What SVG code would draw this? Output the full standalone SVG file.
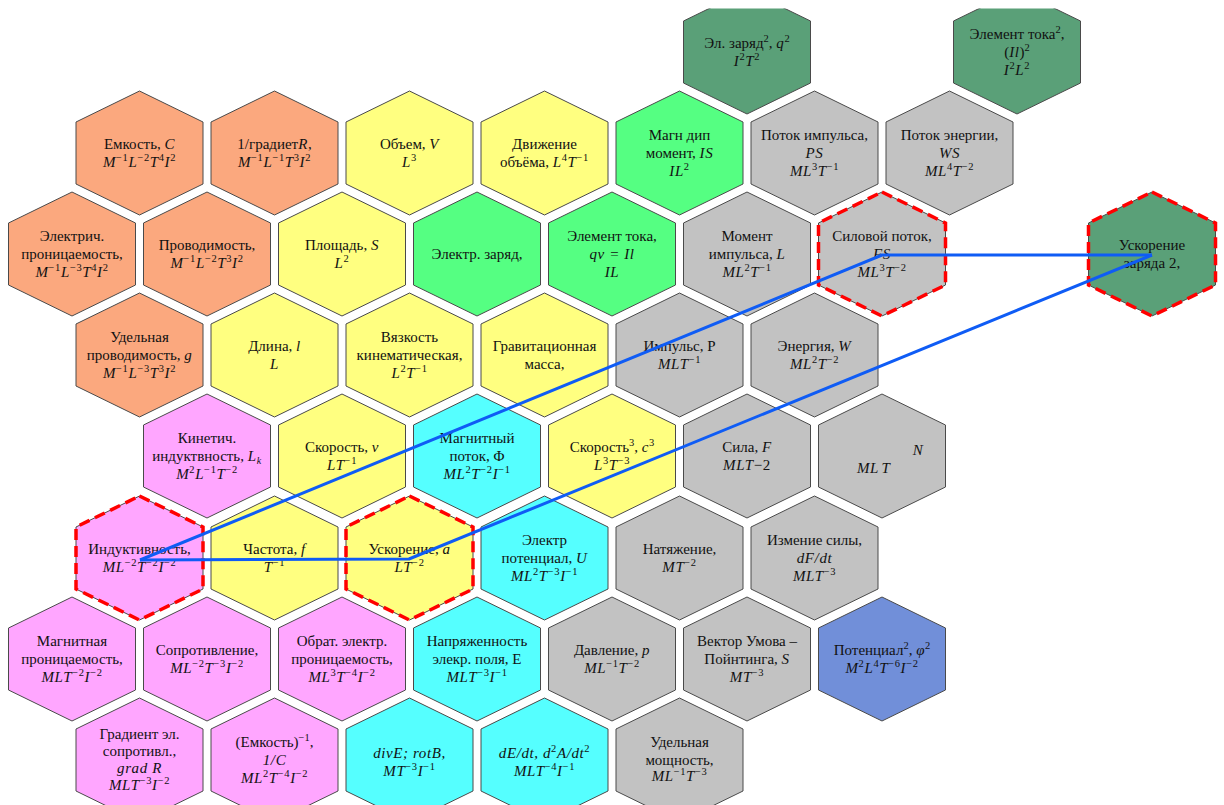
<svg xmlns="http://www.w3.org/2000/svg" xmlns:xlink="http://www.w3.org/1999/xlink" width="1224" height="805" viewBox="0 0 1224 805">
<style>
.hx{stroke:#4a4a4a;stroke-width:1}
.or{fill:#FBA87E}.ye{fill:#FFFF80}.gr{fill:#55FF82}.dg{fill:#5AA078}.gy{fill:#C2C2C2}.pk{fill:#FFA6FF}.cy{fill:#55FFFF}.bl{fill:#718FD9}
.dash{fill:none;stroke:#FF0000;stroke-width:3.5;stroke-dasharray:11 6}
text{font-family:"Liberation Serif","DejaVu Serif",serif;font-size:15px;fill:#111;text-anchor:middle}
.i{font-style:italic;letter-spacing:0.6px}
.s{font-size:10.5px;font-style:normal;baseline-shift:6px}
.b{font-size:10px;baseline-shift:-3px}
.conn{fill:none;stroke:#0F5CF5;stroke-width:3;stroke-linejoin:round}
</style>
<defs>
<polygon id="hex" points="0,-62 63.5,-31 63.5,31 0,62 -63.5,31 -63.5,-31"/>
<clipPath id="topclip"><rect x="-100" y="-43.5" width="300" height="200"/></clipPath>
</defs>

<g id="n-zaryad2" transform="translate(747,52)" clip-path="url(#topclip)"><use href="#hex" class="hx dg"/>
<text><tspan x="0" y="-4">Эл. заряд<tspan class="s">2</tspan>, <tspan class="i">q</tspan><tspan class="s">2</tspan></tspan><tspan x="0" y="14" class="i">I<tspan class="s">2</tspan>T<tspan class="s">2</tspan></tspan></text></g>
<g id="n-elemtoka2" transform="translate(1017,52)" clip-path="url(#topclip)"><use href="#hex" class="hx dg"/>
<text><tspan x="0" y="-13">Элемент тока<tspan class="s">2</tspan>,</tspan><tspan x="0" y="5">(<tspan class="i">Il</tspan>)<tspan class="s">2</tspan></tspan><tspan x="0" y="23" class="i">I<tspan class="s">2</tspan>L<tspan class="s">2</tspan></tspan></text></g>

<g id="n-emkost" transform="translate(139.5,153)"><use href="#hex" class="hx or"/>
<text><tspan x="0" y="-4">Емкость, <tspan class="i">C</tspan></tspan><tspan x="0" y="14" class="i">M<tspan class="s">−1</tspan>L<tspan class="s">−2</tspan>T<tspan class="s">4</tspan>I<tspan class="s">2</tspan></tspan></text></g>
<g id="n-gradR" transform="translate(274.5,153)"><use href="#hex" class="hx or"/>
<text><tspan x="0" y="-4">1/градиет<tspan class="i">R</tspan>,</tspan><tspan x="0" y="14" class="i">M<tspan class="s">−1</tspan>L<tspan class="s">−1</tspan>T<tspan class="s">3</tspan>I<tspan class="s">2</tspan></tspan></text></g>
<g id="n-obem" transform="translate(409.5,153)"><use href="#hex" class="hx ye"/>
<text><tspan x="0" y="-4">Объем, <tspan class="i">V</tspan></tspan><tspan x="0" y="14" class="i">L<tspan class="s">3</tspan></tspan></text></g>
<g id="n-dvizh" transform="translate(544.5,153)"><use href="#hex" class="hx ye"/>
<text><tspan x="0" y="-4">Движение</tspan><tspan x="0" y="14">объёма, <tspan class="i">L<tspan class="s">4</tspan>T<tspan class="s">−1</tspan></tspan></tspan></text></g>
<g id="n-magndip" transform="translate(679.5,153)"><use href="#hex" class="hx gr"/>
<text><tspan x="0" y="-13">Магн дип</tspan><tspan x="0" y="5">момент, <tspan class="i">IS</tspan></tspan><tspan x="0" y="23" class="i">IL<tspan class="s">2</tspan></tspan></text></g>
<g id="n-potokimp" transform="translate(814.5,153)"><use href="#hex" class="hx gy"/>
<text><tspan x="0" y="-13">Поток импульса,</tspan><tspan x="0" y="5" class="i">PS</tspan><tspan x="0" y="23" class="i">ML<tspan class="s">3</tspan>T<tspan class="s">−1</tspan></tspan></text></g>
<g id="n-potokenerg" transform="translate(949.5,153)"><use href="#hex" class="hx gy"/>
<text><tspan x="0" y="-13">Поток энергии,</tspan><tspan x="0" y="5" class="i">WS</tspan><tspan x="0" y="23" class="i">ML<tspan class="s">4</tspan>T<tspan class="s">−2</tspan></tspan></text></g>

<g id="n-elektrich" transform="translate(72,254)"><use href="#hex" class="hx or"/>
<text><tspan x="0" y="-13">Электрич.</tspan><tspan x="0" y="5">проницаемость,</tspan><tspan x="0" y="23" class="i">M<tspan class="s">−1</tspan>L<tspan class="s">−3</tspan>T<tspan class="s">4</tspan>I<tspan class="s">2</tspan></tspan></text></g>
<g id="n-provod" transform="translate(207,254)"><use href="#hex" class="hx or"/>
<text><tspan x="0" y="-4">Проводимость,</tspan><tspan x="0" y="14" class="i">M<tspan class="s">−1</tspan>L<tspan class="s">−2</tspan>T<tspan class="s">3</tspan>I<tspan class="s">2</tspan></tspan></text></g>
<g id="n-ploshad" transform="translate(342,254)"><use href="#hex" class="hx ye"/>
<text><tspan x="0" y="-4">Площадь, <tspan class="i">S</tspan></tspan><tspan x="0" y="14" class="i">L<tspan class="s">2</tspan></tspan></text></g>
<g id="n-elzaryad" transform="translate(477,254)"><use href="#hex" class="hx gr"/>
<text><tspan x="0" y="5">Электр. заряд,</tspan></text></g>
<g id="n-elemtoka" transform="translate(612,254)"><use href="#hex" class="hx gr"/>
<text><tspan x="0" y="-13">Элемент тока,</tspan><tspan x="0" y="5" class="i">qv = Il</tspan><tspan x="0" y="23" class="i">IL</tspan></text></g>
<g id="n-moment" transform="translate(747,254)"><use href="#hex" class="hx gy"/>
<text><tspan x="0" y="-13">Момент</tspan><tspan x="0" y="5">импульса, <tspan class="i">L</tspan></tspan><tspan x="0" y="23" class="i">ML<tspan class="s">2</tspan>T<tspan class="s">−1</tspan></tspan></text></g>
<g id="n-silpotok" transform="translate(882,254)"><use href="#hex" class="hx gy"/><use href="#hex" class="dash"/>
<text><tspan x="0" y="-13">Силовой поток,</tspan><tspan x="0" y="5" class="i">FS</tspan><tspan x="0" y="23" class="i">ML<tspan class="s">3</tspan>T<tspan class="s">−2</tspan></tspan></text></g>
<g id="n-uskzar2" transform="translate(1152,254)"><use href="#hex" class="hx dg"/><use href="#hex" class="dash"/>
<text><tspan x="0" y="-4">Ускорение</tspan><tspan x="0" y="14">заряда 2,</tspan></text></g>

<g id="n-udprovod" transform="translate(139.5,355)"><use href="#hex" class="hx or"/>
<text><tspan x="0" y="-13">Удельная</tspan><tspan x="0" y="5">проводимость, <tspan class="i">g</tspan></tspan><tspan x="0" y="23" class="i">M<tspan class="s">−1</tspan>L<tspan class="s">−3</tspan>T<tspan class="s">3</tspan>I<tspan class="s">2</tspan></tspan></text></g>
<g id="n-dlina" transform="translate(274.5,355)"><use href="#hex" class="hx ye"/>
<text><tspan x="0" y="-4">Длина, <tspan class="i">l</tspan></tspan><tspan x="0" y="14" class="i">L</tspan></text></g>
<g id="n-vyazk" transform="translate(409.5,355)"><use href="#hex" class="hx ye"/>
<text><tspan x="0" y="-13">Вязкость</tspan><tspan x="0" y="5">кинематическая,</tspan><tspan x="0" y="23" class="i">L<tspan class="s">2</tspan>T<tspan class="s">−1</tspan></tspan></text></g>
<g id="n-gravmass" transform="translate(544.5,355)"><use href="#hex" class="hx ye"/>
<text><tspan x="0" y="-4">Гравитационная</tspan><tspan x="0" y="14">масса,</tspan></text></g>
<g id="n-impuls" transform="translate(679.5,355)"><use href="#hex" class="hx gy"/>
<text><tspan x="0" y="-4">Импульс, P</tspan><tspan x="0" y="14" class="i">MLT<tspan class="s">−1</tspan></tspan></text></g>
<g id="n-energ" transform="translate(814.5,355)"><use href="#hex" class="hx gy"/>
<text><tspan x="0" y="-4">Энергия, <tspan class="i">W</tspan></tspan><tspan x="0" y="14" class="i">ML<tspan class="s">2</tspan>T<tspan class="s">−2</tspan></tspan></text></g>

<g id="n-kinind" transform="translate(207,456)"><use href="#hex" class="hx pk"/>
<text><tspan x="0" y="-13">Кинетич.</tspan><tspan x="0" y="5">индуктвность, <tspan class="i">L</tspan><tspan class="b i">k</tspan></tspan><tspan x="0" y="23" class="i">M<tspan class="s">2</tspan>L<tspan class="s">−1</tspan>T<tspan class="s">−2</tspan></tspan></text></g>
<g id="n-skor" transform="translate(342,456)"><use href="#hex" class="hx ye"/>
<text><tspan x="0" y="-4">Скорость, <tspan class="i">v</tspan></tspan><tspan x="0" y="14" class="i">LT<tspan class="s">−1</tspan></tspan></text></g>
<g id="n-magnpotok" transform="translate(477,456)"><use href="#hex" class="hx cy"/>
<text><tspan x="0" y="-13">Магнитный</tspan><tspan x="0" y="5">поток, Φ</tspan><tspan x="0" y="23" class="i">ML<tspan class="s">2</tspan>T<tspan class="s">−2</tspan>I<tspan class="s">−1</tspan></tspan></text></g>
<g id="n-skor3" transform="translate(612,456)"><use href="#hex" class="hx ye"/>
<text><tspan x="0" y="-4">Скорость<tspan class="s">3</tspan>, <tspan class="i">c</tspan><tspan class="s">3</tspan></tspan><tspan x="0" y="14" class="i">L<tspan class="s">3</tspan>T<tspan class="s">−3</tspan></tspan></text></g>
<g id="n-sila" transform="translate(747,456)"><use href="#hex" class="hx gy"/>
<text><tspan x="0" y="-4">Сила, <tspan class="i">F</tspan></tspan><tspan x="0" y="14" class="i">MLT<tspan style="font-style:normal">−2</tspan></tspan></text></g>
<g id="n-N" transform="translate(882,456)"><use href="#hex" class="hx gy"/>
<text class="i"><tspan x="36" y="-1">N</tspan><tspan x="-14" y="17">ML</tspan><tspan x="4" y="17">T</tspan></text></g>

<g id="n-indukt" transform="translate(139.5,558)"><use href="#hex" class="hx pk"/><use href="#hex" class="dash"/>
<text><tspan x="0" y="-4">Индуктивность,</tspan><tspan x="0" y="14" class="i">ML<tspan class="s">−2</tspan>T<tspan class="s">−2</tspan>I<tspan class="s">−2</tspan></tspan></text></g>
<g id="n-chastota" transform="translate(274.5,558)"><use href="#hex" class="hx ye"/>
<text><tspan x="0" y="-4">Частота, <tspan class="i">f</tspan></tspan><tspan x="0" y="14" class="i">T<tspan class="s">−1</tspan></tspan></text></g>
<g id="n-uskor" transform="translate(409.5,558)"><use href="#hex" class="hx ye"/><use href="#hex" class="dash"/>
<text><tspan x="0" y="-4">Ускорение, <tspan class="i">a</tspan></tspan><tspan x="0" y="14" class="i">LT<tspan class="s">−2</tspan></tspan></text></g>
<g id="n-elpot" transform="translate(544.5,558)"><use href="#hex" class="hx cy"/>
<text><tspan x="0" y="-13">Электр</tspan><tspan x="0" y="5">потенциал, <tspan class="i">U</tspan></tspan><tspan x="0" y="23" class="i">ML<tspan class="s">2</tspan>T<tspan class="s">−3</tspan>I<tspan class="s">−1</tspan></tspan></text></g>
<g id="n-natyazh" transform="translate(679.5,558)"><use href="#hex" class="hx gy"/>
<text><tspan x="0" y="-4">Натяжение,</tspan><tspan x="0" y="14" class="i">MT<tspan class="s">−2</tspan></tspan></text></g>
<g id="n-izmsily" transform="translate(814.5,558)"><use href="#hex" class="hx gy"/>
<text><tspan x="0" y="-13">Измение силы,</tspan><tspan x="0" y="5" class="i">dF/dt</tspan><tspan x="0" y="23" class="i">MLT<tspan class="s">−3</tspan></tspan></text></g>

<g id="n-magnpron" transform="translate(72,659)"><use href="#hex" class="hx pk"/>
<text><tspan x="0" y="-13">Магнитная</tspan><tspan x="0" y="5">проницаемость,</tspan><tspan x="0" y="23" class="i">MLT<tspan class="s">−2</tspan>I<tspan class="s">−2</tspan></tspan></text></g>
<g id="n-soprot" transform="translate(207,659)"><use href="#hex" class="hx pk"/>
<text><tspan x="0" y="-4">Сопротивление,</tspan><tspan x="0" y="14" class="i">ML<tspan class="s">−2</tspan>T<tspan class="s">−3</tspan>I<tspan class="s">−2</tspan></tspan></text></g>
<g id="n-obrat" transform="translate(342,659)"><use href="#hex" class="hx pk"/>
<text><tspan x="0" y="-13">Обрат. электр.</tspan><tspan x="0" y="5">проницаемость,</tspan><tspan x="0" y="23" class="i">ML<tspan class="s">3</tspan>T<tspan class="s">−4</tspan>I<tspan class="s">−2</tspan></tspan></text></g>
<g id="n-napryazh" transform="translate(477,659)"><use href="#hex" class="hx cy"/>
<text><tspan x="0" y="-13">Напряженность</tspan><tspan x="0" y="5">элекр. поля, E</tspan><tspan x="0" y="23" class="i">MLT<tspan class="s">−3</tspan>I<tspan class="s">−1</tspan></tspan></text></g>
<g id="n-davl" transform="translate(612,659)"><use href="#hex" class="hx gy"/>
<text><tspan x="0" y="-4">Давление, <tspan class="i">p</tspan></tspan><tspan x="0" y="14" class="i">ML<tspan class="s">−1</tspan>T<tspan class="s">−2</tspan></tspan></text></g>
<g id="n-umov" transform="translate(747,659)"><use href="#hex" class="hx gy"/>
<text><tspan x="0" y="-13">Вектор Умова –</tspan><tspan x="0" y="5">Пойнтинга, <tspan class="i">S</tspan></tspan><tspan x="0" y="23" class="i">MT<tspan class="s">−3</tspan></tspan></text></g>
<g id="n-potenc2" transform="translate(882,659)"><use href="#hex" class="hx bl"/>
<text><tspan x="0" y="-4">Потенциал<tspan class="s">2</tspan>, <tspan class="i">φ</tspan><tspan class="s">2</tspan></tspan><tspan x="0" y="14" class="i">M<tspan class="s">2</tspan>L<tspan class="s">4</tspan>T<tspan class="s">−6</tspan>I<tspan class="s">−2</tspan></tspan></text></g>

<g id="n-gradsopr" transform="translate(139.5,760)"><use href="#hex" class="hx pk"/>
<text><tspan x="0" y="-21">Градиент эл.</tspan><tspan x="0" y="-4">сопротивл.,</tspan><tspan x="0" y="13" class="i">grad R</tspan><tspan x="0" y="30" class="i">MLT<tspan class="s">−3</tspan>I<tspan class="s">−2</tspan></tspan></text></g>
<g id="n-emkinv" transform="translate(274.5,760)"><use href="#hex" class="hx pk"/>
<text><tspan x="0" y="-13">(Емкость)<tspan class="s">−1</tspan>,</tspan><tspan x="0" y="5" class="i">1/C</tspan><tspan x="0" y="23" class="i">ML<tspan class="s">2</tspan>T<tspan class="s">−4</tspan>I<tspan class="s">−2</tspan></tspan></text></g>
<g id="n-div" transform="translate(409.5,760)"><use href="#hex" class="hx cy"/>
<text><tspan x="0" y="-2" class="i">divE; rotB,</tspan><tspan x="0" y="16" class="i">MT<tspan class="s">−3</tspan>I<tspan class="s">−1</tspan></tspan></text></g>
<g id="n-dEdt" transform="translate(544.5,760)"><use href="#hex" class="hx cy"/>
<text><tspan x="0" y="-2" class="i">dE/dt, d<tspan class="s">2</tspan>A/dt<tspan class="s">2</tspan></tspan><tspan x="0" y="16" class="i">MLT<tspan class="s">−4</tspan>I<tspan class="s">−1</tspan></tspan></text></g>
<g id="n-udmoshch" transform="translate(679.5,760)"><use href="#hex" class="hx gy"/>
<text><tspan x="0" y="-13">Удельная</tspan><tspan x="0" y="5">мощность,</tspan><tspan x="0" y="21" class="i">ML<tspan class="s">−1</tspan>T<tspan class="s">−3</tspan></tspan></text></g>

<g id="connectors">
<path class="conn" d="M140,560 L882,255 L1152,255"/>
<path class="conn" d="M140,560 L409,559 L1152,255"/>
</g>
</svg>
